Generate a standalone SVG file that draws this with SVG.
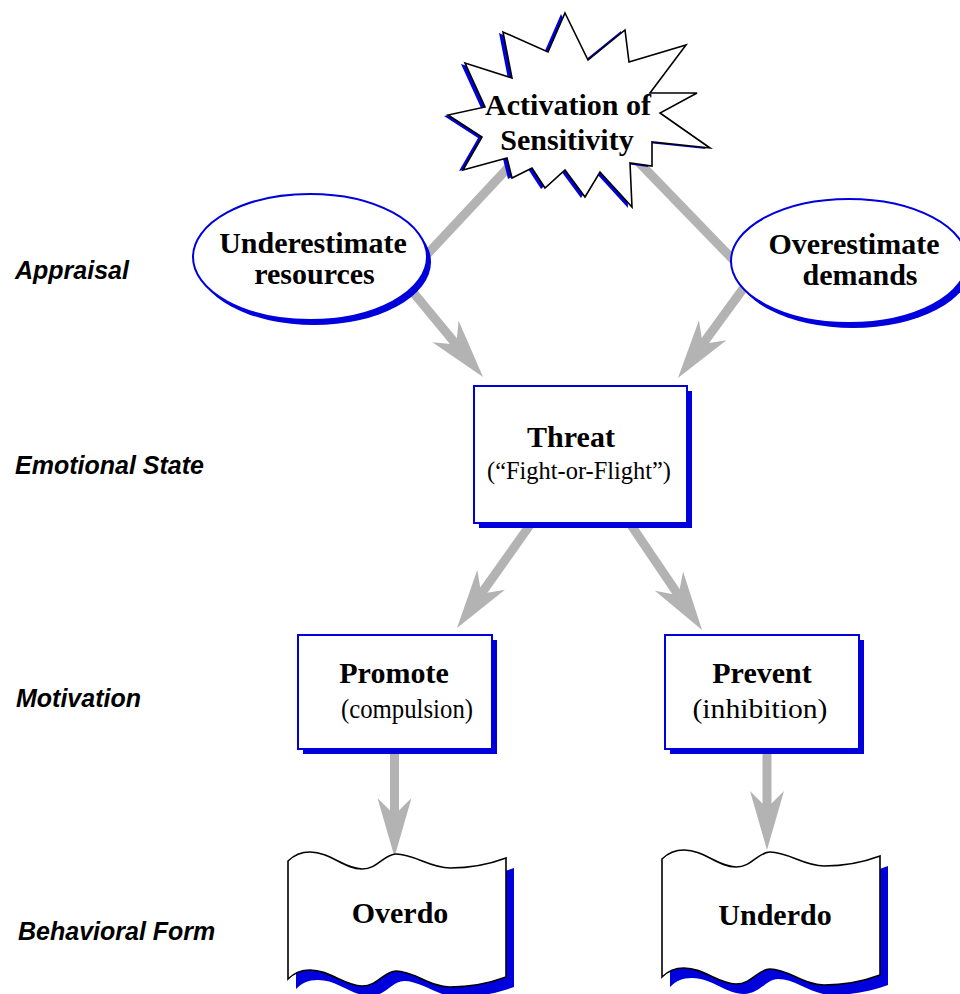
<svg xmlns="http://www.w3.org/2000/svg" width="960" height="994" viewBox="0 0 960 994">
<style>
.conn{stroke:#b3b3b3;stroke-width:9;fill:none}
.arr{marker-end:url(#head)}
.shadow{fill:#0000dd;stroke:none}
.box{fill:#ffffff;stroke:#0000dd;stroke-width:2}
.outline{fill:#ffffff;stroke:#000000;stroke-width:1.6;stroke-linejoin:miter}
.t{font-family:"Liberation Serif","Times New Roman",serif;fill:#000;text-anchor:middle}
.b{font-weight:bold;font-size:30px}
.r{font-size:27px}
.lab{font-family:"Liberation Sans",Arial,sans-serif;font-weight:bold;font-style:italic;font-size:25px;fill:#000}
</style>
<defs>
<marker id="head" markerUnits="userSpaceOnUse" viewBox="-20 -20 64 40" markerWidth="64" markerHeight="40" refX="0" refY="0" orient="auto" overflow="visible">
<path d="M42,0 L-17,-17 L0,0 L-17,17 Z" fill="#b3b3b3"/>
</marker>
<path id="wave" d="M0,2 C6,-4 12,-7 22,-7 C42,-7 56,10 74,10 C90,10 96,-5 108,-5 C126,-5 142,9 162,9 C182,9 202,5 218,-1 L218,118 C202,124 182,128 162,128 C142,128 126,112 108,112 C96,112 90,127 74,127 C56,127 42,111 22,111 C12,111 6,114 0,120 Z"/>
<polygon id="starShape" points="565,13 588,60 625,30 629,62 686,45 650,93 697,93 660,113 710,148 652,142 652,166 630,163 632,207 600,172 585,197 565,170 545,188 532,168 512,178 507,158 463,170 482,137 448,115 485,107 465,63 512,78 503,32 548,52"/>
</defs>
<rect x="0" y="0" width="960" height="994" fill="#ffffff"/>

<g id="connectors">
<path class="conn" d="M520,155 L420,262"/>
<path class="conn" d="M625,148 L745,272"/>
<path class="conn arr" d="M403.5,280.6 L456.3,344.6"/>
<path class="conn arr" d="M751.6,277 L702.7,344.1"/>
<path class="conn arr" d="M535,518 L481.3,593.7"/>
<path class="conn arr" d="M626.4,518.2 L678.5,595.2"/>
<path class="conn arr" d="M394.5,750 L394.5,815"/>
<path class="conn arr" d="M767,750 L767,808"/>
</g>

<g id="star">
<use href="#starShape" class="shadow" transform="translate(-4,1)"/>
<use href="#starShape" class="outline"/>
<text class="t b" x="568" y="115">Activation of</text>
<text class="t b" x="567" y="150">Sensitivity</text>
</g>

<g id="underestimate">
<ellipse class="shadow" cx="314" cy="262" rx="117" ry="63"/>
<ellipse class="box" cx="310" cy="257" rx="117" ry="63"/>
<text class="t b" x="313" y="253">Underestimate</text>
<text class="t b" x="314.5" y="284">resources</text>
</g>

<g id="overestimate">
<ellipse class="shadow" cx="853" cy="266" rx="118" ry="62"/>
<ellipse class="box" cx="849" cy="261" rx="118" ry="62"/>
<text class="t b" x="854" y="254">Overestimate</text>
<text class="t b" x="860" y="285">demands</text>
</g>

<g id="threat">
<rect class="shadow" x="479" y="391" width="213" height="137"/>
<rect class="box" x="474" y="386" width="213" height="137"/>
<text class="t b" x="571" y="447">Threat</text>
<text class="t" x="579" y="479" font-size="25" textLength="184" lengthAdjust="spacingAndGlyphs">(“Fight-or-Flight”)</text>
</g>

<g id="promote">
<rect class="shadow" x="303" y="640" width="194" height="114"/>
<rect class="box" x="298" y="635" width="194" height="114"/>
<text class="t b" x="394" y="683">Promote</text>
<text class="t r" x="407" y="718" textLength="132" lengthAdjust="spacingAndGlyphs">(compulsion)</text>
</g>

<g id="prevent">
<rect class="shadow" x="670" y="640" width="194" height="114"/>
<rect class="box" x="665" y="635" width="194" height="114"/>
<text class="t b" x="762" y="683">Prevent</text>
<text class="t r" x="760" y="718" textLength="135" lengthAdjust="spacingAndGlyphs">(inhibition)</text>
</g>

<g id="overdo">
<use href="#wave" class="shadow" transform="translate(296,869)"/>
<use href="#wave" class="outline" transform="translate(288,859)"/>
<text class="t b" x="400" y="923">Overdo</text>
</g>

<g id="underdo">
<use href="#wave" class="shadow" transform="translate(670,867)"/>
<use href="#wave" class="outline" transform="translate(662,857)"/>
<text class="t b" x="775" y="925">Underdo</text>
</g>

<g id="labels">
<text class="lab" x="15" y="279">Appraisal</text>
<text class="lab" x="15" y="474">Emotional State</text>
<text class="lab" x="16" y="707">Motivation</text>
<text class="lab" x="18" y="940">Behavioral Form</text>
</g>
</svg>
